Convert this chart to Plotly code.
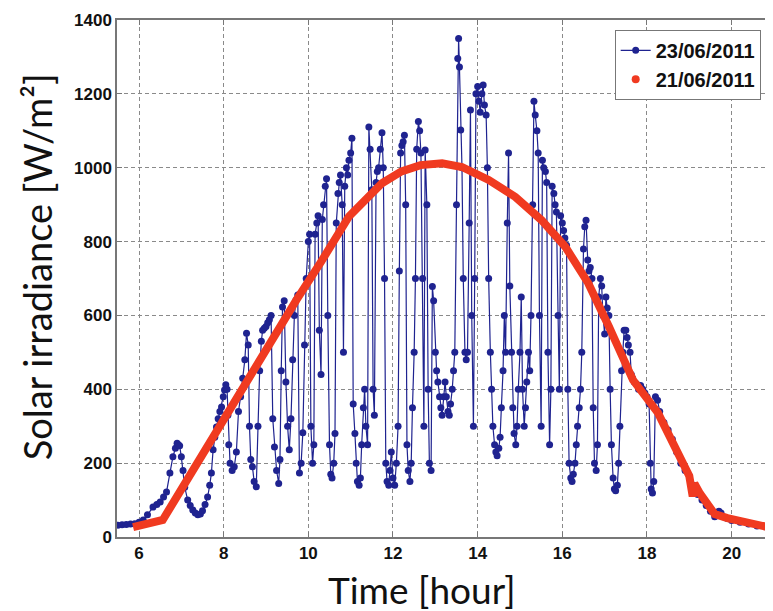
import plotly.graph_objects as go

# ---------------- data ----------------
# 23/06/2011 measured irradiance (blue, noisy)
blue_hours = [
    5.5, 5.6, 5.7, 5.8, 5.9, 6.0, 6.1, 6.2, 6.33, 6.42, 6.5, 6.58, 6.65, 6.73, 6.8, 6.86, 6.9, 6.93, 6.96, 7.0,
    7.04, 7.08, 7.15, 7.21, 7.27, 7.33, 7.39, 7.45, 7.5, 7.56, 7.62, 7.67, 7.71, 7.75, 7.79, 7.83, 7.87, 7.91, 7.95, 7.99,
    8.02, 8.05,
    8.08, 8.1, 8.12, 8.15, 8.2, 8.25, 8.3, 8.35, 8.4, 8.45, 8.5, 8.54, 8.58, 8.61, 8.64, 8.68, 8.72, 8.77, 8.81, 8.85,
    8.89, 8.92, 8.96, 9.0, 9.04, 9.08, 9.12, 9.16, 9.2, 9.25, 9.3, 9.33, 9.36, 9.39, 9.43, 9.47, 9.51, 9.55, 9.59, 9.63,
    9.67, 9.71, 9.75, 9.79, 9.83, 9.87, 9.91, 9.95,
    10.0, 10.03, 10.06, 10.1, 10.13, 10.16, 10.2, 10.23, 10.26, 10.3, 10.33, 10.36, 10.4, 10.43, 10.46, 10.5, 10.53,
    10.56, 10.6, 10.63, 10.66, 10.7, 10.73, 10.76, 10.8, 10.83, 10.86, 10.9, 10.93, 10.96, 11.0, 11.03, 11.06,
    11.1, 11.13, 11.16, 11.2, 11.23, 11.26, 11.3, 11.33, 11.36, 11.4, 11.43, 11.46, 11.5, 11.53, 11.56, 11.6, 11.63,
    11.66, 11.7, 11.74, 11.77, 11.8, 11.83, 11.86, 11.9, 11.93, 11.96,
    12.0, 12.04, 12.08, 12.12, 12.15, 12.18, 12.21, 12.24, 12.27, 12.3, 12.33, 12.36, 12.4, 12.43, 12.46, 12.5, 12.53,
    12.56, 12.6, 12.63, 12.66, 12.7, 12.73, 12.76, 12.8, 12.83, 12.86, 12.9, 12.93, 12.96,
    13.0, 13.03, 13.06, 13.1, 13.13, 13.16, 13.2, 13.23, 13.26, 13.3, 13.33, 13.36, 13.4, 13.43, 13.46, 13.5, 13.53,
    13.55, 13.57, 13.6, 13.63, 13.66, 13.7, 13.73, 13.76, 13.8, 13.83, 13.86, 13.9, 13.93, 13.96, 14.0, 14.03, 14.06,
    14.1, 14.13, 14.16,
    14.2, 14.23, 14.26, 14.3, 14.33, 14.36, 14.4, 14.43, 14.46, 14.5, 14.53, 14.56, 14.6, 14.63, 14.66, 14.7, 14.73,
    14.76, 14.8, 14.83, 14.86, 14.9, 14.93, 14.96, 15.0, 15.03, 15.06, 15.1, 15.13, 15.16, 15.2, 15.23, 15.26, 15.3,
    15.33, 15.36, 15.4, 15.43, 15.46, 15.5, 15.53, 15.56, 15.6, 15.63, 15.66, 15.7, 15.73, 15.76, 15.8, 15.83, 15.86,
    15.9, 15.93, 15.96, 16.0, 16.03, 16.06, 16.1, 16.13, 16.16, 16.2, 16.23, 16.26, 16.3, 16.33, 16.36, 16.4, 16.43,
    16.46, 16.5, 16.53, 16.56, 16.6,
    16.63, 16.66, 16.7, 16.73, 16.76, 16.8, 16.83, 16.86, 16.9, 16.93, 16.96, 17.0, 17.03, 17.06, 17.1, 17.13, 17.16,
    17.2, 17.23, 17.26, 17.3, 17.33, 17.36, 17.4, 17.43, 17.46, 17.5, 17.53, 17.56, 17.6, 17.63, 17.66, 17.7, 17.75, 17.8,
    17.85, 17.9, 17.95, 18.0, 18.05, 18.08, 18.1, 18.13, 18.16, 18.2, 18.25, 18.3, 18.4, 18.5, 18.6, 18.7, 18.8, 18.9,
    19.0, 19.1, 19.2, 19.3, 19.4, 19.5, 19.6, 19.7, 19.75, 19.8, 19.9, 20.0, 20.2, 20.4, 20.6, 20.8, 20.92,
]
blue_irr = [
    32, 33, 34, 35, 36, 40, 46, 60, 81, 88, 95, 108, 122, 173, 217, 240, 254, 250, 247, 217,
    180, 135, 100, 85, 73, 65, 60, 62, 71, 88, 108, 140, 173, 236, 270, 298, 320, 340, 352, 380,
    398, 412,
    400, 330, 250, 200, 180, 190, 230, 340, 380, 430, 480, 552, 520, 300, 210, 190, 150, 136, 300, 450,
    530, 560, 565, 570, 580, 588, 600, 320, 244, 180, 145, 210, 450, 623, 640, 420, 300, 236, 320, 480,
    600, 642, 655, 173, 200, 282, 520, 700,
    800, 820, 300, 200, 250, 820, 850, 870, 560, 440, 860, 900, 950, 970, 600, 250, 170,
    160, 200, 280, 850, 930, 960, 980, 900, 500, 950, 1000, 980, 1020, 1040, 1080, 360,
    280, 200, 150, 140, 160, 250, 350, 400, 300, 250, 1110, 1050, 940, 400, 330, 960, 990,
    1000, 1050, 1095, 1000, 700, 200, 150, 140, 180, 230,
    160, 140, 200, 300, 720, 1040, 1060, 1070, 1088, 900, 250, 180, 150, 200, 350, 500, 700,
    1050, 1125, 1100, 1040, 700, 300, 1048, 900, 400, 200, 180, 678, 640,
    500, 450, 420, 380, 350, 330, 380, 420, 380, 340, 330, 360, 400, 450, 500, 900, 1296,
    1350, 1273, 1102, 1000, 700, 500, 480, 500, 850, 1156, 600, 300, 700, 1200, 1220, 1180, 1150,
    1200, 1224, 1170,
    1143, 1000, 700, 500, 400, 300, 250, 230, 220, 240, 270, 350, 450, 600, 500, 850, 1040,
    680, 500, 350, 280, 250, 300, 400, 500, 650, 400, 300, 350, 420, 500, 450, 600, 900,
    1180, 1143, 1100, 1040, 600, 300, 1020, 1000, 990, 960, 500, 250, 400, 950, 930, 900, 880,
    600, 400, 870, 850, 830, 810, 790, 400, 200, 160, 150, 170, 200, 250, 300, 350, 400,
    500, 780, 840, 858, 750,
    720, 730, 700, 350, 200, 180, 250, 650, 700, 680, 600, 550, 650, 620, 600, 400, 250,
    160, 130, 125, 140, 200, 300, 450, 500, 560, 560, 540, 520, 500, 440, 430, 420, 415, 400,
    410, 400, 390, 380, 360, 200, 130, 119, 150, 380, 370, 340, 310, 290, 265, 230, 200, 180,
    165, 140, 115, 100, 85, 70, 55, 70, 65, 55, 50, 45, 40, 35, 30, 28, 27,
]

# 21/06/2011 clear-sky irradiance (red, smooth)
red_hours = [5.86, 6.2, 6.56, 7.0, 7.5, 8.0, 8.5, 9.0, 9.72, 10.3, 10.96, 11.74, 12.2, 12.65, 13.16, 13.63,
             14.26, 14.89, 15.51, 16.07, 16.61, 17.1, 17.67, 18.26, 18.7, 19.0, 19.08, 19.12, 19.25, 19.6,
             19.9, 20.4, 20.85]
red_irr = [27, 36, 46, 129, 225, 317, 410, 505, 642, 745, 868, 958, 990, 1007, 1012, 1002,
           967, 921, 858, 786, 688, 570, 425, 336, 240, 165, 110, 145, 118, 62,
           51, 38, 27]

x_ticks = [6, 8, 10, 12, 14, 16, 18, 20]
y_ticks = [0, 200, 400, 600, 800, 1000, 1200, 1400]
series_names = ["23/06/2011", "21/06/2011"]

BLUE = "#1f2390"
RED = "#f03a20"
GRIDC = "#8a8a8a"
TICKFONT = dict(family="Liberation Sans, Arial", size=17, color="#111111", weight="bold")

fig = go.Figure()
fig.add_trace(go.Scatter(
    x=blue_hours, y=blue_irr, mode="lines+markers", name=series_names[0],
    line=dict(color=BLUE, width=1.2),
    marker=dict(color=BLUE, size=7),
))
fig.add_trace(go.Scatter(
    x=red_hours, y=red_irr, mode="lines", showlegend=False,
    line=dict(color=RED, width=8),
))
fig.add_trace(go.Scatter(
    x=[None], y=[None], mode="markers", name=series_names[1],
    marker=dict(color=RED, size=8),
))

# the page body adds an 8px offset, so the figure is 8px smaller and margins shifted
fig.update_layout(
    width=765, height=603,
    margin=dict(l=109, r=0, t=12, b=74),
    paper_bgcolor="white", plot_bgcolor="white",
    showlegend=True,
    legend=dict(
        x=0.761, y=0.981, xanchor="left", yanchor="top",
        bgcolor="white", bordercolor="#777777", borderwidth=1,
        font=dict(family="Liberation Sans, Arial", size=20, color="#111111", weight="bold"),
        tracegroupgap=0, itemwidth=30,
    ),
    annotations=[
        dict(text="Solar irradiance [W/m²]", xref="paper", yref="paper",
             x=-0.122, y=0.522, xanchor="center", yanchor="middle", textangle=-90,
             showarrow=False, font=dict(family="Lato", size=38, color="#111111")),
        dict(text="Time [hour]", xref="paper", yref="paper",
             x=0.466, y=-0.1025, xanchor="center", yanchor="middle",
             showarrow=False, font=dict(family="Lato", size=37, color="#111111")),
    ],
)

fig.update_xaxes(
    range=[5.48, 20.93], tickvals=x_ticks, ticktext=[str(v) for v in x_ticks],
    tickfont=TICKFONT, ticks="inside", ticklen=5, tickcolor="#777777",
    showline=True, linecolor="#777777", linewidth=1.5, mirror="ticks",
    showgrid=True, gridcolor=GRIDC, griddash="4px,3px", gridwidth=1, zeroline=False,
)
fig.update_yaxes(
    range=[0, 1400], tickvals=y_ticks, ticktext=[str(v) for v in y_ticks],
    tickfont=TICKFONT, ticks="inside", ticklen=5, tickcolor="#777777",
    showline=True, linecolor="#777777", linewidth=1.5, mirror="ticks",
    showgrid=True, gridcolor=GRIDC, griddash="4px,3px", gridwidth=1, zeroline=False,
)

fig.write_html("out.html")
